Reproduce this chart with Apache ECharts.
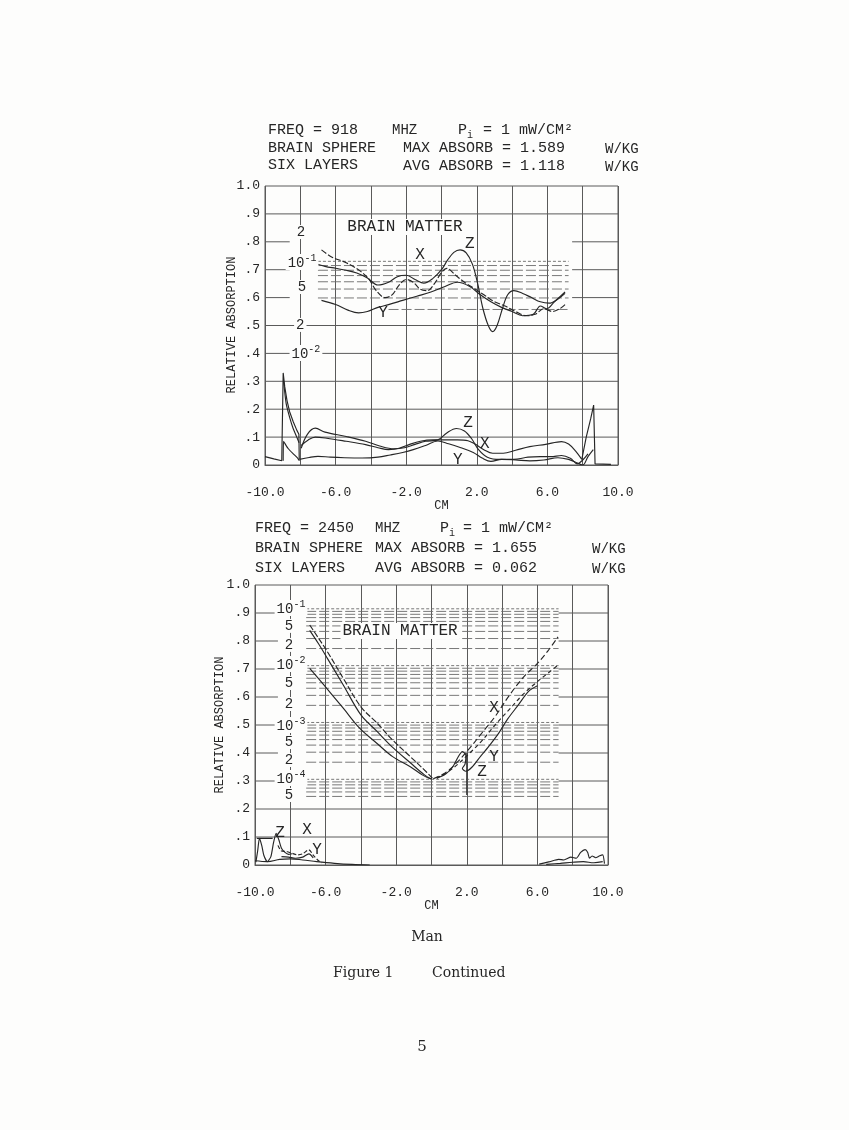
<!DOCTYPE html>
<html>
<head>
<meta charset="utf-8">
<script src="https://cdn.jsdelivr.net/npm/echarts/dist/echarts.min.js"></script>
<style>
html,body{margin:0;padding:0;background:#fdfdfc;}
#c{width:849px;height:1130px;}
</style>
</head>
<body>
<div id="c"></div>
<script>
// ---------------- DATA ----------------
const xTickValues = [-10, -6, -2, 2, 6, 10];
const yTickLabels = ['0', '.1', '.2', '.3', '.4', '.5', '.6', '.7', '.8', '.9', '1.0'];

// 918 MHz chart - lower (linear) curves
const f918Spike1 = [[-10,0.03],[-9.5,0.022],[-9.05,0.015],[-8.97,0.33],[-8.88,0.28],[-8.75,0.23],[-8.6,0.19],[-8.4,0.155],[-8.2,0.125],[-8.08,0.11],[-8.06,0.02]];
const f918Spike2 = [[-8.95,0.30],[-8.8,0.22],[-8.6,0.17],[-8.4,0.13],[-8.2,0.10],[-8.07,0.08]];
const f918Spike3 = [[-8.97,0.015],[-8.95,0.085],[-8.7,0.06],[-8.4,0.04],[-8.15,0.025],[-8.05,0.015]];
const f918SpikeR = [[7.95,0.02],[8.2,0.10],[8.45,0.165],[8.62,0.215],[8.68,0.215],[8.7,0.004],[9.6,0.002]];
const f918LowZ = [[-7.95,0.06],[-7.6,0.11],[-7.15,0.132],[-6.6,0.118],[-5.4,0.102],[-4.3,0.085],[-3.5,0.068],[-2.7,0.058],[-2.1,0.062],[-1.5,0.074],[-0.9,0.085],[-0.2,0.09],[0.3,0.115],[0.85,0.131],[1.3,0.122],[1.7,0.095],[2.1,0.055],[2.6,0.028],[3.3,0.02],[4.1,0.02],[4.9,0.028],[5.6,0.03],[6.2,0.03],[6.8,0.034],[7.3,0.024],[7.7,0.004],[8.0,0.018],[8.3,0.04]];
const f918LowX = [[-7.95,0.07],[-7.55,0.09],[-7.15,0.10],[-6.5,0.096],[-5.4,0.085],[-4.3,0.073],[-3.6,0.062],[-3.0,0.055],[-2.4,0.06],[-1.8,0.074],[-1.2,0.085],[-0.5,0.09],[0.2,0.09],[0.9,0.09],[1.5,0.087],[1.9,0.075],[2.4,0.055],[2.9,0.042],[3.5,0.042],[4.2,0.053],[5.0,0.066],[5.9,0.074],[6.8,0.084],[7.2,0.075],[7.6,0.05],[7.95,0.02]];
const f918LowY = [[-8.05,0.02],[-7.5,0.027],[-7.0,0.031],[-6.3,0.028],[-5.5,0.026],[-4.5,0.025],[-3.6,0.028],[-2.9,0.036],[-2.2,0.045],[-1.6,0.055],[-0.9,0.07],[-0.2,0.086],[0.4,0.076],[1.1,0.062],[1.8,0.045],[2.3,0.025],[2.8,0.013],[3.4,0.02],[4.2,0.018],[5.0,0.015],[5.8,0.018],[6.6,0.026],[7.2,0.02],[7.6,0.01],[8.0,0.0],[8.3,0.03],[8.6,0.055]];
// 918 MHz chart - upper (log-scale brain matter) curves
const f918UpZ = [[-7.25,0.725],[-6.6,0.712],[-6.0,0.705],[-5.4,0.698],[-4.8,0.688],[-4.2,0.67],[-3.6,0.645],[-3.0,0.655],[-2.5,0.675],[-2.0,0.68],[-1.5,0.665],[-1.0,0.652],[-0.5,0.668],[0.0,0.70],[0.35,0.735],[0.7,0.762],[1.05,0.771],[1.4,0.76],[1.75,0.72],[2.05,0.65],[2.35,0.56],[2.65,0.50],[2.9,0.478],[3.15,0.50],[3.45,0.56],[3.75,0.61],[4.1,0.625],[4.6,0.615],[5.1,0.60],[5.6,0.585],[6.1,0.58],[6.6,0.595],[7.0,0.615]];
const f918UpX = [[-6.8,0.771],[-6.2,0.745],[-5.4,0.725],[-4.6,0.695],[-4.1,0.665],[-3.7,0.625],[-3.2,0.60],[-2.8,0.61],[-2.4,0.645],[-2.0,0.665],[-1.6,0.655],[-1.2,0.63],[-0.8,0.625],[-0.4,0.65],[0.0,0.69],[0.3,0.705],[0.8,0.68],[1.3,0.655],[1.8,0.635],[2.4,0.61],[3.0,0.585],[3.6,0.57],[4.2,0.55],[4.8,0.535],[5.3,0.54],[5.8,0.56],[6.3,0.55],[6.7,0.56],[7.0,0.575]];
const f918UpY = [[-6.8,0.59],[-6.0,0.575],[-5.3,0.555],[-4.7,0.545],[-4.2,0.55],[-3.6,0.565],[-3.0,0.575],[-2.2,0.59],[-1.4,0.605],[-0.6,0.62],[0.2,0.64],[0.9,0.655],[1.6,0.64],[2.2,0.61],[2.8,0.585],[3.4,0.565],[4.0,0.55],[4.6,0.535],[5.2,0.54],[5.6,0.57],[5.95,0.56],[6.4,0.585],[7.0,0.62]];

// 2450 MHz chart - upper (log-scale brain matter) curves
const f2450UpA = [[-6.9,0.857],[-6.4,0.81],[-5.9,0.762],[-5.0,0.667],[-4.0,0.565],[-3.1,0.508],[-2.2,0.446],[-1.2,0.387],[-0.3,0.333],[0.05,0.31]];
const f2450UpB = [[-6.9,0.838],[-6.4,0.79],[-5.9,0.738],[-5.0,0.643],[-4.0,0.536],[-3.1,0.478],[-2.2,0.42],[-1.2,0.365],[-0.4,0.322],[0.0,0.307]];
const f2450UpC = [[-6.9,0.702],[-6.1,0.643],[-5.0,0.56],[-4.06,0.488],[-3.1,0.435],[-2.2,0.387],[-1.2,0.351],[-0.5,0.321],[0.0,0.306]];
const f2450UpX = [[0.1,0.308],[0.8,0.33],[1.5,0.37],[2.2,0.42],[2.9,0.475],[3.6,0.53],[4.4,0.605],[5.2,0.67],[6.0,0.72],[6.6,0.765],[7.17,0.815]];
const f2450UpY = [[0.3,0.31],[1.2,0.345],[2.0,0.39],[2.8,0.44],[3.6,0.5],[4.4,0.555],[5.2,0.61],[6.0,0.655],[6.6,0.685],[7.17,0.714]];
const f2450UpZ = [[0.3,0.31],[0.8,0.325],[1.2,0.35],[1.5,0.385],[1.75,0.405],[1.95,0.39],[1.9,0.36],[1.75,0.345],[1.95,0.335],[2.3,0.35],[2.8,0.39],[3.2,0.42],[3.8,0.47],[4.3,0.52],[4.9,0.57],[5.5,0.62],[6.0,0.64]];
const f2450ZDrop = [[2.0,0.40],[2.0,0.25]];
// 2450 MHz chart - lower (linear) curves
const f2450LowFlat = [[-9.9,0.095],[-9.0,0.095]];
const f2450LowZ = [[-9.95,0.01],[-9.85,0.05],[-9.75,0.095],[-9.62,0.07],[-9.5,0.035],[-9.3,0.012],[-9.1,0.03],[-8.95,0.08],[-8.8,0.113],[-8.65,0.09],[-8.5,0.06],[-8.3,0.045],[-8.1,0.038],[-7.9,0.04]];
const f2450LowX = [[-8.7,0.07],[-8.5,0.05],[-8.2,0.048],[-7.9,0.042],[-7.6,0.036],[-7.3,0.04],[-6.95,0.054],[-6.7,0.035],[-6.4,0.015],[-6.2,0.008]];
const f2450LowY = [[-8.5,0.03],[-8.1,0.028],[-7.7,0.024],[-7.3,0.028],[-6.95,0.04],[-6.7,0.025]];
const f2450Base = [[-10,0.015],[-9.3,0.012],[-8.6,0.02],[-8.0,0.022],[-7.3,0.018],[-6.5,0.012],[-5.5,0.006],[-4.5,0.002],[-3.5,0.0]];
const f2450RightA = [[6.1,0.003],[6.7,0.012],[7.2,0.02],[7.5,0.018],[7.9,0.028],[8.2,0.024],[8.45,0.045],[8.7,0.055],[8.85,0.045],[8.95,0.024],[9.1,0.032],[9.3,0.026],[9.5,0.032],[9.7,0.036],[9.8,0.005]];
const f2450RightB = [[6.5,0.002],[7.3,0.006],[8.0,0.01],[8.6,0.012],[9.2,0.008],[9.7,0.012]];

// In-plot labels: [text, x, y, fontSize, whiteBackground]
const f918Labels = [
  ['2',-7.96,0.835,14,true],['10⁻¹',-7.9,0.728,14,true],['5',-7.9,0.638,14,true],
  ['2',-8.0,0.502,14,true],['10⁻²',-7.68,0.401,14,true],
  ['BRAIN MATTER',-2.07,0.853,16,true],
  ['X',-1.22,0.753,16,false],['Z',1.61,0.792,16,false],['Y',-3.31,0.545,16,false],
  ['Z',1.5,0.15,16,false],['X',2.46,0.075,16,false],['Y',0.93,0.018,16,false]
];
const f2450Labels = [
  ['10⁻¹',-7.96,0.918,14,true],['5',-8.07,0.854,14,true],['2',-8.07,0.786,14,true],
  ['10⁻²',-7.96,0.718,14,true],['5',-8.07,0.65,14,true],['2',-8.07,0.575,14,true],
  ['10⁻³',-7.96,0.5,14,true],['5',-8.07,0.439,14,true],['2',-8.07,0.375,14,true],
  ['10⁻⁴',-7.96,0.311,14,true],['5',-8.07,0.25,14,true],
  ['BRAIN MATTER',-1.78,0.836,16,true],
  ['X',3.54,0.56,16,false],['Y',3.54,0.386,16,false],['Z',2.86,0.332,16,false],
  ['Z',-8.58,0.114,16,false],['X',-7.05,0.125,16,false],['Y',-6.49,0.054,16,false]
];

// ---------------- STYLE / BUILD ----------------
const INK = '#262626';
const GRIDC = '#5a5a5a';
const MONO = '"Liberation Mono","DejaVu Sans Mono",monospace';
const SERIF = '"DejaVu Serif","Liberation Serif",serif';
const BG = '#fdfdfc';
const SUP = {'⁻':'-','¹':'1','²':'2','³':'3','⁴':'4'};

const series = [];
function seg(gi, y, x0, x1, type, color, width) {
  series.push({type:'line', xAxisIndex:gi, yAxisIndex:gi, data:[[x0,y],[x1,y]],
    symbol:'none', silent:true, animation:false, z:1,
    lineStyle:{color:color||GRIDC, width:width||1, type:type||'solid'}});
}
function curve(gi, data, opts) {
  opts = opts || {};
  series.push({type:'line', xAxisIndex:gi, yAxisIndex:gi, data:data, symbol:'none',
    smooth: opts.smooth === undefined ? 0.35 : opts.smooth, silent:true, animation:false, z:3,
    lineStyle:{color:INK, width:opts.width||1.15, type:opts.type||'solid'}});
}
function fmtLabel(p) {
  const s = p.name;
  if (s.indexOf('10⁻') === 0) {
    const exp = s.slice(2).split('').map(c => SUP[c] || c).join('');
    return '{b|10}{s|' + exp + '}';
  }
  return s;
}
function labels(gi, arr) {
  series.push({type:'scatter', xAxisIndex:gi, yAxisIndex:gi, symbolSize:1, silent:true,
    animation:false, itemStyle:{color:'rgba(0,0,0,0)'}, z:6,
    labelLayout:{hideOverlap:false},
    data: arr.map(l => ({value:[l[1], l[2]], name:l[0],
      label:{fontSize:l[3], color:INK, opacity:1, backgroundColor: l[4] ? BG : 'transparent', padding: l[4] ? [0,2] : 0}})),
    label:{show:true, position:'inside', formatter: fmtLabel, color:INK, opacity:1, fontFamily:MONO,
      rich:{
        b:{fontSize:14, fontFamily:MONO, color:INK, verticalAlign:'bottom', lineHeight:16},
        s:{fontSize:10, fontFamily:MONO, color:INK, verticalAlign:'bottom', lineHeight:16, padding:[0,0,7,0]}
      }}});
}

// horizontal linear grid lines
[0.1,0.2,0.3,0.4,0.5,0.9].forEach(y => seg(0, y, -10, 10));
[0.6,0.7,0.8].forEach(y => { seg(0, y, -10, -8.6); seg(0, y, 7.4, 10); });
[0.1,0.2].forEach(y => seg(1, y, -10, 10));
[0.3,0.4,0.5,0.6,0.7,0.8,0.9].forEach(y => { seg(1, y, -10, -8.7); seg(1, y, 7.2, 10); });

// log-scale grid lines (918: 10^-2 at .40, decade .33)
for (let m = 3; m <= 10; m++) {
  const y = 0.40 + 0.33 * Math.log10(m);
  seg(0, y, m === 3 ? -3.0 : -7.0, 7.2, m === 10 ? [3,2] : [10,3], '#6a6a6a', 0.9);
}
// log-scale grid lines (2450: 10^-4 at .306, decade .203)
for (let k = -5; k <= -2; k++) {
  for (let m = 1; m <= 9; m++) {
    const y = 0.306 + 0.203 * (k + 4 + Math.log10(m));
    if (y < 0.24) continue;
    seg(1, y, -7.1, 7.2, m === 1 ? [3,2] : [10,3], '#6a6a6a', 0.9);
  }
}
seg(1, 0.306 + 0.203 * 3, -7.1, 7.2, [3,2], '#6a6a6a', 0.9);

// curves 918
curve(0, f918Spike1, {smooth:false});
curve(0, f918Spike2, {smooth:0.2});
curve(0, f918Spike3, {smooth:0.2});
curve(0, f918SpikeR, {smooth:false});
curve(0, f918LowZ);
curve(0, f918LowX);
curve(0, f918LowY);
curve(0, f918UpZ);
curve(0, f918UpX, {type:[6,2]});
curve(0, f918UpY);
// curves 2450
curve(1, f2450UpA, {type:[6,2]});
curve(1, f2450UpB);
curve(1, f2450UpC);
curve(1, f2450UpX, {type:[6,3]});
curve(1, f2450UpY, {type:[4,3]});
curve(1, f2450UpZ, {smooth:0.3});
curve(1, f2450ZDrop, {smooth:false});
curve(1, f2450LowFlat, {smooth:false});
curve(1, f2450LowZ, {smooth:0.2});
curve(1, f2450LowX, {smooth:0.3, type:[4,2]});
curve(1, f2450LowY, {smooth:0.3});
curve(1, f2450Base);
curve(1, f2450RightA, {smooth:0.2});
curve(1, f2450RightB);

labels(0, f918Labels);
labels(1, f2450Labels);

function xAx(gi) {
  return {gridIndex:gi, type:'value', min:-10, max:10, interval:2,
    name:'CM', nameLocation:'middle', nameGap:10,
    nameTextStyle:{fontFamily:MONO, fontSize:12, color:INK},
    axisLine:{show:true, onZero:false, lineStyle:{color:GRIDC, width:1}},
    axisTick:{show:false},
    axisLabel:{margin:21, fontFamily:MONO, fontSize:13, color:INK,
      formatter: v => xTickValues.indexOf(Math.round(v)) >= 0 ? v.toFixed(1) : ''},
    splitLine:{show:true, lineStyle:{color:GRIDC, width:1}}};
}
function yAx(gi) {
  return {gridIndex:gi, type:'value', min:0, max:1, interval:0.1,
    axisLine:{show:true, lineStyle:{color:GRIDC, width:1}},
    axisTick:{show:false},
    axisLabel:{margin:5, fontFamily:MONO, fontSize:13, color:INK,
      formatter: v => yTickLabels[Math.round(v * 10)]},
    splitLine:{show:false}};
}

function txt(x, y, s, size, family, align, extra) {
  return Object.assign({type:'text', x:x, y:y, silent:true,
    style:{text:s, fill:INK, fontSize:size, fontFamily:family||MONO,
      align:align||'left', verticalAlign:'middle'}}, extra||{});
}

const graphics = [
  // 918 header
  txt(268,130,'FREQ = 918',15), txt(392,130,'MHZ',14),
  txt(458,130,'P',15), txt(467,135,'i',10), txt(483,130,'= 1 mW/CM²',15),
  txt(268,148,'BRAIN SPHERE',15), txt(403,148,'MAX ABSORB = 1.589',15), txt(605,149,'W/KG',14),
  txt(268,165,'SIX LAYERS',15), txt(403,166,'AVG ABSORB = 1.118',15), txt(605,167,'W/KG',14),
  // 2450 header
  txt(255,528,'FREQ = 2450',15), txt(375,528,'MHZ',14),
  txt(440,528,'P',15), txt(449,533,'i',10), txt(463,528,'= 1 mW/CM²',15),
  txt(255,548,'BRAIN SPHERE',15), txt(375,548,'MAX ABSORB = 1.655',15), txt(592,549,'W/KG',14),
  txt(255,568,'SIX LAYERS',15), txt(375,568,'AVG ABSORB = 0.062',15), txt(592,569,'W/KG',14),
  // y-axis names
  txt(232,325,'RELATIVE ABSORPTION',12,MONO,'center',{rotation:Math.PI/2}),
  txt(220,725,'RELATIVE ABSORPTION',12,MONO,'center',{rotation:Math.PI/2}),
  // footer
  txt(427,937,'Man',14,SERIF,'center'),
  txt(333,973,'Figure 1',14,SERIF,'left'),
  txt(432,973,'Continued',14,SERIF,'left'),
  txt(422,1047,'5',15,SERIF,'center')
];

const chart = echarts.init(document.getElementById('c'));
chart.setOption({
  backgroundColor:BG,
  animation:false,
  grid:[
    {left:265, top:186, width:353, height:279, show:true, borderColor:GRIDC, borderWidth:1, backgroundColor:'transparent'},
    {left:255, top:585, width:353, height:280, show:true, borderColor:GRIDC, borderWidth:1, backgroundColor:'transparent'}
  ],
  xAxis:[xAx(0), xAx(1)],
  yAxis:[yAx(0), yAx(1)],
  series:series,
  graphic:graphics
});
</script>
</body>
</html>
